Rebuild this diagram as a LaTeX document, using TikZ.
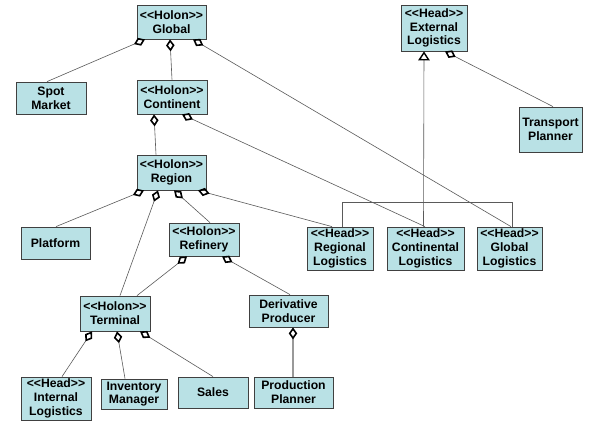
\documentclass[tikz,border=0pt]{standalone}
\usepackage{fontspec}
\newfontfamily\lfont{Liberation Sans}
\usetikzlibrary{arrows.meta}
\definecolor{boxfill}{HTML}{B9E1E5}
\definecolor{boxline}{HTML}{404040}
\definecolor{conn}{HTML}{5A5A5A}
\tikzset{
  box/.style 2 args={draw=boxline, fill=boxfill, line width=0.8pt, inner sep=0pt,
    minimum width=#1pt, minimum height=#2pt, align=center,
    font=\lfont\fontsize{12.2}{13.8}\selectfont\bfseries},
  agg/.style={draw=conn, line width=0.6pt,
    {Diamond[open, length=12pt, width=8.5pt, line width=1.6pt, color=black]}-},
  aggthick/.style={draw=black!40, line width=1.6pt,
    {Diamond[open, length=12pt, width=8.5pt, line width=1.6pt, color=black]}-},
  gen/.style={draw=conn, line width=0.6pt,
    {Triangle[open, length=9pt, width=11.5pt, line width=1.4pt, color=black]}-},
  plain/.style={draw=conn, line width=0.6pt}
}
\begin{document}
\begin{tikzpicture}[x=1pt, y=-1pt]
\useasboundingbox[fill=white] (0,0) rectangle (594,424);
% nodes
\node[box={69}{34}] (Glob) at (171.5,22) {<<Holon>>\\Global};
\node[box={70}{32}] (Spot) at (51,98) {Spot\\Market};
\node[box={70}{34}] (Cont) at (172,97) {<<Holon>>\\Continent};
\node[box={66}{46}] (ExtL) at (434,28) {<<Head>>\\External\\Logistics};
\node[box={63}{45}] (Trans) at (550.5,129.5) {Transport\\Planner};
\node[box={69}{35}] (Reg) at (171.5,172.5) {<<Holon>>\\Region};
\node[box={69}{32}] (Plat) at (55.5,243) {Platform};
\node[box={70}{33}] (Ref) at (204,239.5) {<<Holon>>\\Refinery};
\node[box={66}{43}] (RegL) at (340,248.5) {<<Head>>\\Regional\\Logistics};
\node[box={77}{43}] (ContL) at (425.5,248.5) {<<Head>>\\Continental\\Logistics};
\node[box={65}{43}] (GlobL) at (509.5,248.5) {<<Head>>\\Global\\Logistics};
\node[box={70}{35}] (Term) at (115,313.5) {<<Holon>>\\Terminal};
\node[box={79}{32}] (Deriv) at (288.5,311) {Derivative\\Producer};
\node[box={70}{43}] (IntL) at (56,398.5) {<<Head>>\\Internal\\Logistics};
\node[box={66}{30}] (Inv) at (134,394) {Inventory\\Manager};
\node[box={70}{31}] (Sales) at (213,392.5) {Sales};
\node[box={79}{31}] (Prod) at (293.5,392.5) {Production\\Planner};
% aggregations
\draw[agg] ([xshift=-26.5pt]Glob.south) -- ([xshift=-4pt]Spot.north);
\draw[agg] ([xshift=-1.5pt]Glob.south) -- (Cont.north);
\draw[agg] ([xshift=21.5pt]Glob.south) -- ([xshift=1.5pt]GlobL.north);
\draw[agg] ([xshift=-18pt]Cont.south) -- ([xshift=-15.5pt]Reg.north);
\draw[agg] ([xshift=10pt]Cont.south) -- ([xshift=-0.5pt]ContL.north);
\draw[agg] ([xshift=11pt]ExtL.south) -- ([xshift=2.5pt]Trans.north);
\draw[agg] ([xshift=-27.5pt]Reg.south) -- ([xshift=0.5pt]Plat.north);
\draw[agg] ([xshift=-13.5pt]Reg.south) -- ([xshift=5pt]Term.north);
\draw[agg] ([xshift=2.5pt]Reg.south) -- ([xshift=6pt]Ref.north);
\draw[agg] ([xshift=26.5pt]Reg.south) -- ([xshift=-8pt]RegL.north);
\draw[agg] ([xshift=-17pt]Ref.south) -- ([xshift=22pt]Term.north);
\draw[agg] ([xshift=18pt]Ref.south) -- ([xshift=1.5pt]Deriv.north);
\draw[agg] ([xshift=-23pt]Term.south) -- ([xshift=6pt]IntL.north);
\draw[agg] ([xshift=2pt]Term.south) -- ([xshift=-9pt]Inv.north);
\draw[agg] ([xshift=25pt]Term.south) -- (Sales.north);
\draw[aggthick] ([xshift=4.5pt]Deriv.south) -- ([xshift=-0.5pt]Prod.north);
% generalization
\draw[gen] ([xshift=-10pt]ExtL.south) -- ([xshift=-2pt]ContL.north);
\draw[plain] ([xshift=2pt]RegL.north) -- ++(0,-24) -| ([xshift=2.5pt]GlobL.north);
\end{tikzpicture}
\end{document}
